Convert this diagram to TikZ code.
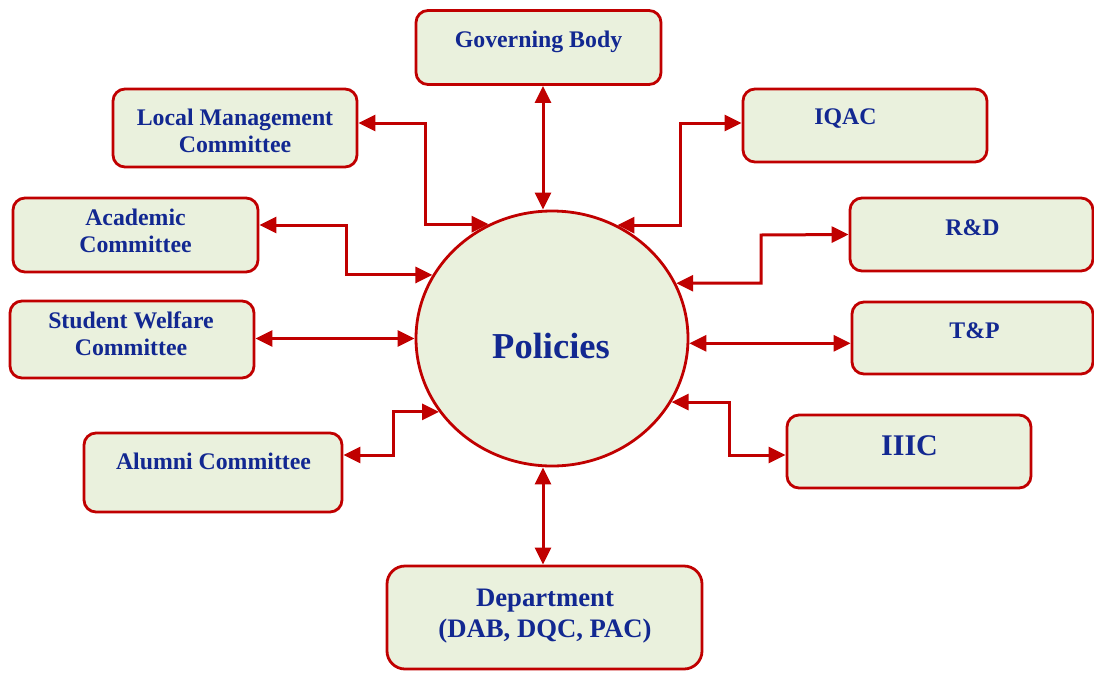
\documentclass[tikz,border=0pt]{standalone}
\usepackage{fontspec}
\setmainfont{Liberation Serif}
\usetikzlibrary{arrows.meta,shapes.geometric}
\definecolor{bred}{RGB}{192,0,0}
\definecolor{bfill}{RGB}{234,241,221}
\definecolor{tblue}{RGB}{18,40,145}
\newcommand{\tstrut}{\rule{0pt}{17pt}}
\begin{document}
\begin{tikzpicture}[x=1pt,y=-1pt,
  box/.style={draw=bred, fill=bfill, line width=2.8pt, rounded corners=12pt, inner sep=0pt},
  txt/.style={text=tblue, font=\bfseries\fontsize{23.8}{27}\selectfont, align=center, inner sep=0pt, anchor=north},
  link/.style={draw=bred, line width=3pt, {Triangle[length=17pt,width=16pt]}-{Triangle[length=17pt,width=16pt]}}
]
\useasboundingbox (0,0) rectangle (1094,672);

% central ellipse
\node[ellipse, draw=bred, fill=bfill, line width=2.8pt, minimum width=272pt, minimum height=255pt, inner sep=0pt] (P) at (552,338.5) {};
\node[text=tblue, font=\bfseries\fontsize{36.5}{40}\selectfont, inner sep=0pt, anchor=base] (Pt) at (551,358) {Policies};

% boxes
\node[box, minimum width=245pt, minimum height=74pt] (gb) at (538.5,47.5) {};
\node[box, minimum width=244pt, minimum height=78pt] (lmc) at (235,128) {};
\node[box, minimum width=244pt, minimum height=73pt] (iqac) at (865,125.5) {};
\node[box, minimum width=245pt, minimum height=74pt] (acad) at (135.5,235) {};
\node[box, minimum width=243pt, minimum height=73pt] (rd) at (971.5,234.5) {};
\node[box, minimum width=244pt, minimum height=77pt] (swc) at (132,339.5) {};
\node[box, minimum width=241pt, minimum height=72pt] (tp) at (972.5,338) {};
\node[box, minimum width=258pt, minimum height=79pt] (alum) at (213,472.5) {};
\node[box, minimum width=244pt, minimum height=73pt] (iiic) at (909,451.5) {};
\node[box, rounded corners=18pt, minimum width=315pt, minimum height=103pt] (dept) at (544.5,617.5) {};

% texts
\node[txt] (gbt) at (538.5,30) {\tstrut Governing Body};
\node[txt] (lmct) at (235,108) {\tstrut Local Management\\Committee};
\node[txt] (iqact) at (845.5,107) {\tstrut IQAC};
\node[txt] (acadt) at (135.5,208) {\tstrut Academic\\Committee};
\node[txt] (rdt) at (972.5,218) {\tstrut R\&D};
\node[txt] (swct) at (131,311) {\tstrut Student Welfare\\Committee};
\node[txt] (tpt) at (974.5,321) {\tstrut T\&P};
\node[txt] (alumt) at (213.5,452) {\tstrut Alumni Committee};
\node[text=tblue, font=\bfseries\fontsize{30}{34}\selectfont, inner sep=0pt, anchor=base] (iiict) at (909.5,455) {IIIC};
\node[txt, font=\bfseries\fontsize{26.7}{31}\selectfont] (deptt) at (545,587.5) {\rule{0pt}{19pt}Department\\(DAB, DQC, PAC)};

% connector end points
\coordinate (gbx) at ([xshift=4.5pt]gb.south);
\coordinate (dpx) at ([xshift=-1.5pt]dept.north);
\coordinate (lmcE) at ([yshift=5pt]lmc.east);
\coordinate (iqacW) at ([yshift=2.5pt]iqac.west);
\coordinate (acadE) at ([yshift=10pt]acad.east);
\coordinate (swcE) at ([yshift=1pt]swc.east);
\coordinate (alumE) at ([yshift=17.5pt]alum.east);
\coordinate (iiicW) at ([yshift=-3.5pt]iiic.west);

% connectors
\draw[link] (gbx) -- (gbx |- P.north);
\draw[link] (dpx |- P.south) -- (dpx);
\draw[link] (lmcE) -- (425,123) |- (P.119.5);
\draw[link] (P.60.5) -| (680,123) -- (iqacW);
\draw[link] (acadE) -- (346,225) |- (P.152.9);
\draw[link] (swcE) -- (P.west |- swcE);
\draw[link] (alumE) -- (393,455) |- (P.213.2);
\draw[link] (P.24.2) -| (761,235) -- (rd.west);
\draw[link] (P.358) -- (P.358 -| tp.west);
\draw[link] (P.332.9) -| (729,455) -- (iiicW);
\end{tikzpicture}
\end{document}
